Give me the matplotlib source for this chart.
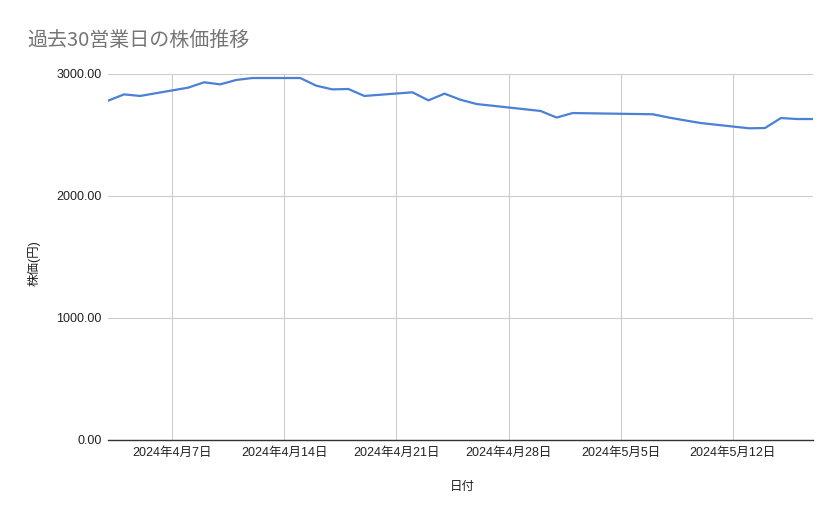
import pandas as pd
import numpy as np
import matplotlib.pyplot as plt
import matplotlib.dates as mdates
from matplotlib.ticker import FuncFormatter

plt.rcParams['font.family'] = ['Liberation Sans', 'Noto Sans CJK JP', 'DejaVu Sans']

# 過去30営業日 (土日・祝日を除く)
dates = pd.to_datetime([
    '2024-04-03', '2024-04-04', '2024-04-05',
    '2024-04-08', '2024-04-09', '2024-04-10', '2024-04-11', '2024-04-12',
    '2024-04-15', '2024-04-16', '2024-04-17', '2024-04-18', '2024-04-19',
    '2024-04-22', '2024-04-23', '2024-04-24', '2024-04-25', '2024-04-26',
    '2024-04-30', '2024-05-01', '2024-05-02',
    '2024-05-07', '2024-05-08', '2024-05-09', '2024-05-10',
    '2024-05-13', '2024-05-14', '2024-05-15', '2024-05-16', '2024-05-17',
])
prices = [
    2781, 2833, 2820,
    2888, 2932, 2915, 2951, 2967,
    2967, 2904, 2874, 2877, 2820,
    2850, 2784, 2839, 2789, 2754,
    2697, 2643, 2680,
    2670, 2643, 2620, 2598,
    2555, 2557, 2639, 2631, 2631,
]
tick_dates = pd.to_datetime(['2024-04-07', '2024-04-14', '2024-04-21',
                             '2024-04-28', '2024-05-05', '2024-05-12'])
y_ticks = [0, 1000, 2000, 3000]

fig = plt.figure(figsize=(8.39, 5.19), dpi=100)
ax = fig.add_axes([108 / 839, 79 / 519, 705 / 839, 366 / 519])

ax.plot(dates, prices, color='#4a80d6', linewidth=1.6, zorder=3)

ax.set_xlim(dates[0], dates[-1])
ax.set_ylim(0, 3000)
ax.set_xticks(tick_dates)
ax.xaxis.set_major_formatter(FuncFormatter(
    lambda v, pos: (lambda d: f'{d.year}年{d.month}月{d.day}日')(mdates.num2date(v))))
ax.set_yticks(y_ticks)
ax.yaxis.set_major_formatter(FuncFormatter(lambda v, pos: f'{v:.2f}'))

ax.grid(True, color='#cccccc', linewidth=0.8)
ax.set_axisbelow(True)
for s in ['top', 'right', 'left']:
    ax.spines[s].set_visible(False)
ax.spines['bottom'].set_color('#333333')
ax.spines['bottom'].set_linewidth(1.0)
ax.spines['bottom'].set_zorder(4)
ax.tick_params(axis='both', length=0, labelsize=9, labelcolor='#222222')
ax.tick_params(axis='y', pad=4.5)
ax.tick_params(axis='x', pad=5)

fig.text(27 / 839, 1 - 40 / 519, '過去30営業日の株価推移', fontsize=14.4,
         color='#757575', va='center', ha='left', family=['Noto Sans CJK JP'])
fig.text(462 / 839, 1 - 487 / 519, '日付', fontsize=9, color='#222222',
         va='center', ha='center')
fig.text(34 / 839, 1 - 263 / 519, '株価(円)', fontsize=9, color='#222222',
         va='center', ha='center', rotation=90)

fig.savefig('out.png', dpi=100)
